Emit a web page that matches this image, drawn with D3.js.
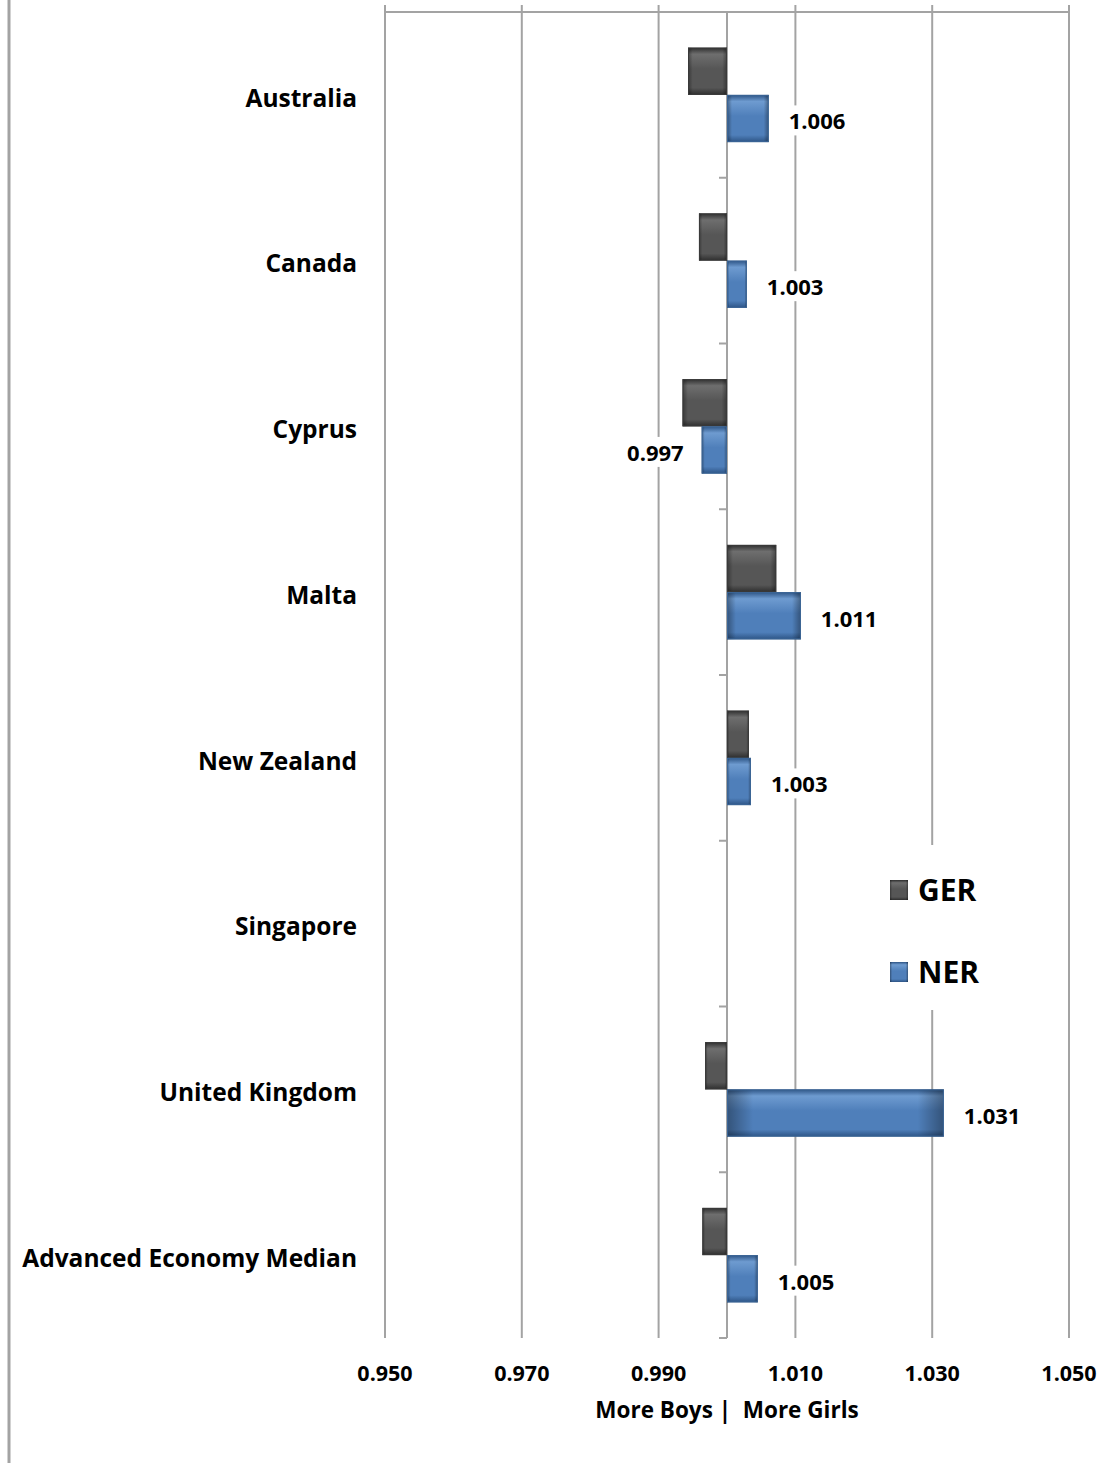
<!DOCTYPE html>
<html><head><meta charset="utf-8">
<script src="https://cdn.jsdelivr.net/npm/d3@7"></script>
<style>
html,body{margin:0;padding:0;background:#fff;}
svg{display:block;font-family:"Open Sans",sans-serif;font-weight:700;}
</style></head>
<body>
<svg id="chart" width="1117" height="1463"></svg>
<script>
const countries = ["Australia","Canada","Cyprus","Malta","New Zealand","Singapore","United Kingdom","Advanced Economy Median"];
const gerValues = [0.9943, 0.9959, 0.9935, 1.0072, 1.0032, null, 0.9968, 0.9964];
const nerValues = [1.0061, 1.0029, 0.9963, 1.0108, 1.0035, null, 1.0317, 1.0045];
const nerLabels = ["1.006","1.003","0.997","1.011","1.003",null,"1.031","1.005"];
const xTicks = [0.950, 0.970, 0.990, 1.010, 1.030, 1.050];
const seriesNames = ["GER","NER"];
const axisTitle = "More Boys |  More Girls";

const svg = d3.select("#chart");
const x = d3.scaleLinear().domain([0.95, 1.05]).range([385, 1069]);
const y = d3.scaleBand().domain(countries).range([12, 1338]).paddingInner(0.43).paddingOuter(0.215);
const sub = d3.scaleBand().domain(seriesNames).range([0, y.bandwidth()]);
const base = 1.0;
const grid = "#a3a3a3";

const defs = svg.append("defs");
function grads(id, dark, mid, light){
  const gv = defs.append("linearGradient").attr("id", id+"V").attr("x1",0).attr("y1",0).attr("x2",0).attr("y2",1);
  gv.append("stop").attr("offset","0%").attr("stop-color", dark);
  gv.append("stop").attr("offset","14%").attr("stop-color", light);
  gv.append("stop").attr("offset","45%").attr("stop-color", mid);
  gv.append("stop").attr("offset","85%").attr("stop-color", mid);
  gv.append("stop").attr("offset","100%").attr("stop-color", dark);
  const gh = defs.append("linearGradient").attr("id", id+"H").attr("x1",0).attr("y1",0).attr("x2",1).attr("y2",0);
  gh.append("stop").attr("offset","0%").attr("stop-color", "#000").attr("stop-opacity",0.35);
  gh.append("stop").attr("offset","12%").attr("stop-color", "#000").attr("stop-opacity",0);
  gh.append("stop").attr("offset","88%").attr("stop-color", "#000").attr("stop-opacity",0);
  gh.append("stop").attr("offset","100%").attr("stop-color", "#000").attr("stop-opacity",0.35);
}
grads("ger", "#2e2e2e", "#565656", "#6e6e6e");
grads("ner", "#2d5485", "#4f7fba", "#6e9bd0");

svg.append("line").attr("x1",9).attr("x2",9).attr("y1",0).attr("y2",1463).attr("stroke",grid).attr("stroke-width",3);

svg.append("g").selectAll("line").data(xTicks).join("line")
  .attr("x1", d=>x(d)).attr("x2", d=>x(d)).attr("y1", 5).attr("y2", 1338)
  .attr("stroke", grid).attr("stroke-width", 2);
svg.append("line").attr("x1", x(0.95)).attr("x2", x(1.05)).attr("y1", 12).attr("y2", 12).attr("stroke", grid).attr("stroke-width", 2);

const bounds = countries.map((c,i)=> y.range()[0] + i*y.step());
bounds.push(y.range()[1]);
svg.append("line").attr("x1", x(base)).attr("x2", x(base)).attr("y1", 12).attr("y2", 1338).attr("stroke", grid).attr("stroke-width", 2);
svg.append("g").selectAll("line").data(bounds.slice(1)).join("line")
  .attr("x1", x(base)-8).attr("x2", x(base)).attr("y1", d=>d).attr("y2", d=>d)
  .attr("stroke", grid).attr("stroke-width", 2);

function drawBars(vals, key, id){
  const g = svg.append("g");
  countries.forEach((c,i)=>{
    const v = vals[i]; if (v==null) return;
    const x0 = Math.min(x(base), x(v)), w = Math.abs(x(v)-x(base));
    const y0 = y(c) + sub(key), h = sub.bandwidth();
    g.append("rect").attr("x", x0).attr("y", y0).attr("width", w).attr("height", h).attr("fill", `url(#${id}V)`);
    g.append("rect").attr("x", x0).attr("y", y0).attr("width", w).attr("height", h).attr("fill", `url(#${id}H)`);
    g.append("rect").attr("x", x0+0.5).attr("y", y0+0.5).attr("width", Math.max(0,w-1)).attr("height", h-1)
      .attr("fill","none").attr("stroke", id==="ger" ? "#3a3a3a" : "#3b6596").attr("stroke-width",1);
  });
}
drawBars(gerValues, "GER", "ger");
drawBars(nerValues, "NER", "ner");

const lblG = svg.append("g");
countries.forEach((c,i)=>{
  const v = nerValues[i]; if (v==null) return;
  const cy = y(c) + sub("NER") + sub.bandwidth()/2 + 3;
  const right = v >= base;
  const tx = right ? x(v) + 20 : x(v) - 18;
  const bg = lblG.append("rect").attr("fill","#fff");
  const t = lblG.append("text").attr("x", tx).attr("y", cy).attr("dy","0.36em")
    .attr("text-anchor", right ? "start" : "end").attr("font-size", 22).attr("fill","#000")
    .text(nerLabels[i]);
  const bb = t.node().getBBox();
  bg.attr("x", bb.x-3).attr("y", bb.y).attr("width", bb.width+6).attr("height", bb.height);
});

svg.append("g").selectAll("text").data(countries).join("text")
  .attr("x", 357).attr("y", d=>y(d)+y.bandwidth()/2 + 3).attr("dy","0.36em")
  .attr("text-anchor","end").attr("font-size", 24.5).attr("fill","#000").text(d=>d);

svg.append("g").selectAll("text").data(xTicks).join("text")
  .attr("x", d=>x(d)).attr("y", 1373).attr("dy","0.36em").attr("text-anchor","middle")
  .attr("font-size", 21.5).attr("fill","#000").text(d=>d3.format(".3f")(d));

svg.append("text").attr("x", x(base)).attr("y", 1410).attr("dy","0.36em").attr("text-anchor","middle")
  .attr("font-size", 22.5).attr("fill","#000").attr("xml:space","preserve").style("white-space","pre").text(axisTitle);

const lg = svg.append("g");
lg.append("rect").attr("x", 878).attr("y", 845).attr("width", 120).attr("height", 165).attr("fill","#fff");
seriesNames.forEach((s,i)=>{
  const cy = 890 + i*82;
  const id = s==="GER" ? "ger" : "ner";
  lg.append("rect").attr("x", 890).attr("y", cy-10).attr("width", 18).attr("height", 20).attr("fill", `url(#${id}V)`);
  lg.append("rect").attr("x", 890).attr("y", cy-10).attr("width", 18).attr("height", 20).attr("fill", `url(#${id}H)`);
  lg.append("text").attr("x", 918).attr("y", cy).attr("dy","0.36em").attr("font-size", 30).attr("fill","#000").text(s);
});
</script>
</body></html>
